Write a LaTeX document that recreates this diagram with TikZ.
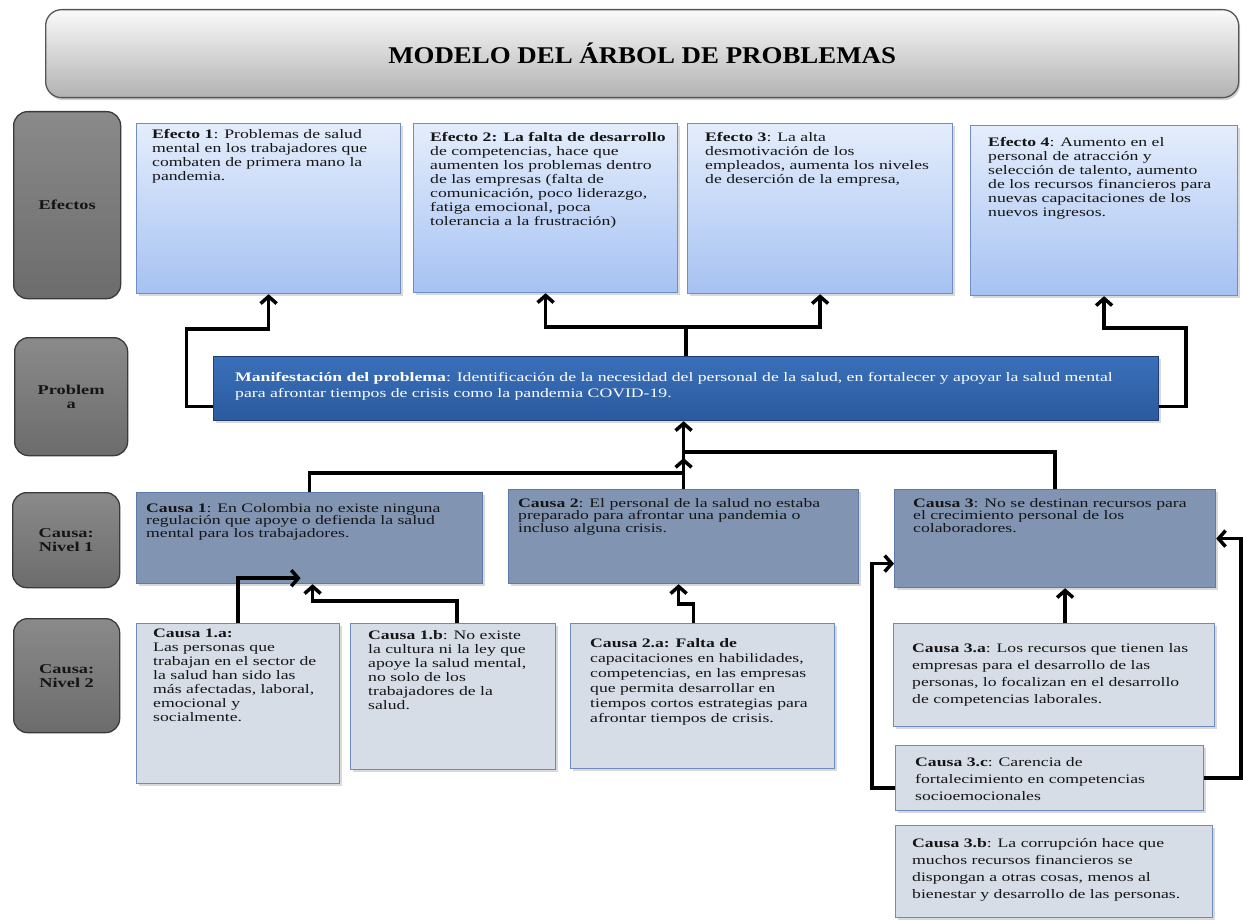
\documentclass[tikz,border=0pt]{standalone}
\usepackage{fontspec}
\setmainfont{Liberation Serif}[FakeStretch=1.36]
\newfontfamily\headfont{Liberation Serif}[FakeStretch=1.12]
\usetikzlibrary{arrows.meta,shadows,calc}

\definecolor{efTop}{HTML}{E4EDFC}
\definecolor{efBot}{HTML}{A6C2F2}
\definecolor{efLine}{HTML}{6F8EC6}
\definecolor{mfTop}{HTML}{3A70BA}
\definecolor{mfBot}{HTML}{2A5A9E}
\definecolor{mfLine}{HTML}{1E3E72}
\definecolor{cOneFill}{HTML}{8195B3}
\definecolor{cOneLine}{HTML}{5C79A8}
\definecolor{cTwoFill}{HTML}{D7DDE7}
\definecolor{cTwoLine}{HTML}{6C8CC0}
\definecolor{lbTop}{HTML}{8A8A8A}
\definecolor{lbMid}{HTML}{A2A2A2}
\definecolor{lbBot}{HTML}{6C6C6C}
\definecolor{lbLine}{HTML}{3A3A3A}
\definecolor{tiTop}{HTML}{FAFAFA}
\definecolor{tiBot}{HTML}{B2B2B2}
\definecolor{tiLine}{HTML}{555555}
\definecolor{ink}{HTML}{151515}

\newcommand\txtlines[1]{\begin{tabular}[t]{@{}l@{}}#1\end{tabular}}

\tikzset{
  sz/.style 2 args={minimum width=#1pt, minimum height=#2pt},
  panel/.style={rectangle, inner sep=0pt, anchor=north west, line width=1.2pt,
    drop shadow={shadow xshift=2pt, shadow yshift=-2.5pt, opacity=0.3}},
  efbox/.style={panel, draw=efLine, top color=efTop, bottom color=efBot},
  mfbox/.style={panel, draw=mfLine, top color=mfTop, bottom color=mfBot},
  conebox/.style={panel, draw=cOneLine, fill=cOneFill},
  ctwobox/.style={panel, draw=cTwoLine, fill=cTwoFill},
  lblbox/.style={rectangle, rounded corners=14pt, anchor=north west, draw=lbLine,
    line width=1.3pt, top color=lbTop, middle color=lbMid, bottom color=lbBot,
    align=center, text=ink, font=\fontsize{13.5}{14}\selectfont\bfseries},
  titlebox/.style={rectangle, rounded corners=16pt, anchor=north west, draw=tiLine,
    line width=1.3pt, top color=tiTop, bottom color=tiBot,
    drop shadow={shadow xshift=1.5pt, shadow yshift=-2.5pt, opacity=0.35},
    font=\headfont\fontsize{24}{26}\selectfont\bfseries, text=black},
  txt/.style={anchor=base west, inner sep=0pt, text=ink},
  wire/.style={line width=3.5pt, black, line join=miter},
  conn/.style={wire, -{Straight Barb[length=7pt,width=16pt]}},
}

\begin{document}
\begin{tikzpicture}[x=1pt, y=-1pt]
\useasboundingbox (0,0) rectangle (1243,923);

% title banner
\node[titlebox, sz={1193}{88}] (title) at (45,9) {MODELO DEL ÁRBOL DE PROBLEMAS};

% row labels
\node[lblbox, sz={107}{187}] (lef) at (13,111) {Efectos};
\node[lblbox, sz={113}{118}] (lpr) at (14,337) {Problem\\a};
\node[lblbox, sz={107}{95}] (lcone) at (12,492) {Causa:\\Nivel 1};
\node[lblbox, sz={106}{114}] (lctwo) at (13,618) {Causa:\\Nivel 2};

% effects
\node[efbox, sz={264}{170}] (e1) at (136,123) {};
\node[efbox, sz={264}{169}] (e2) at (413,123) {};
\node[efbox, sz={265}{170}] (e3) at (687,123) {};
\node[efbox, sz={267}{170}] (e4) at (970,125) {};

% problem
\node[mfbox, sz={945}{64}] (m) at (213,356) {};

% causes, level 1
\node[conebox, sz={346}{91}] (c1) at (136,492) {};
\node[conebox, sz={350}{94}] (c2) at (508,489) {};
\node[conebox, sz={321}{98}] (c3) at (894,489) {};

% causes, level 2
\node[ctwobox, sz={203}{160}] (c1a) at (136,623) {};
\node[ctwobox, sz={205}{146}] (c1b) at (350,623) {};
\node[ctwobox, sz={264}{145}] (c2a) at (570,623) {};
\node[ctwobox, sz={321}{103}] (c3a) at (893,623) {};
\node[ctwobox, sz={308}{65}] (c3c) at (895,745) {};
\node[ctwobox, sz={317}{92}] (c3b) at (895,825) {};

% texts
\node[txt, font=\fontsize{13}{14}\selectfont] (e1t) at ($(e1.north west)+(16,16)$)
  {\txtlines{\textbf{Efecto 1}: Problemas de salud\\ mental en los trabajadores que\\ combaten de primera mano la\\ pandemia.}};
\node[txt, font=\fontsize{13}{14}\selectfont] (e2t) at ($(e2.north west)+(17,19)$)
  {\txtlines{\textbf{Efecto 2: La falta de desarrollo}\\ de competencias, hace que\\ aumenten los problemas dentro\\ de las empresas (falta de\\ comunicación, poco liderazgo,\\ fatiga emocional, poca\\ tolerancia a la frustración)}};
\node[txt, font=\fontsize{13}{14}\selectfont] (e3t) at ($(e3.north west)+(18,19)$)
  {\txtlines{\textbf{Efecto 3}: La alta\\ desmotivación de los\\ empleados, aumenta los niveles\\ de deserción de la empresa,}};
\node[txt, font=\fontsize{13}{14}\selectfont] (e4t) at ($(e4.north west)+(18,22)$)
  {\txtlines{\textbf{Efecto 4}: Aumento en el\\ personal de atracción y\\ selección de talento, aumento\\ de los recursos financieros para\\ nuevas capacitaciones de los\\ nuevos ingresos.}};
\node[txt, text=white, font=\fontsize{13}{16}\selectfont] (mt) at ($(m.north west)+(22,25)$)
  {\txtlines{\textbf{Manifestación del problema}: Identificación de la necesidad del personal de la salud, en fortalecer y apoyar la salud mental\\ para afrontar tiempos de crisis como la pandemia COVID-19.}};
\node[txt, font=\fontsize{13}{12}\selectfont] (c1t) at ($(c1.north west)+(10,20)$)
  {\txtlines{\textbf{Causa 1}: En Colombia no existe ninguna\\ regulación que apoye o defienda la salud\\ mental para los trabajadores.}};
\node[txt, font=\fontsize{13}{12}\selectfont] (c2t) at ($(c2.north west)+(10,18)$)
  {\txtlines{\textbf{Causa 2}: El personal de la salud no estaba\\ preparado para afrontar una pandemia o\\ incluso alguna crisis.}};
\node[txt, font=\fontsize{13}{12}\selectfont] (c3t) at ($(c3.north west)+(19,18)$)
  {\txtlines{\textbf{Causa 3}: No se destinan recursos para\\ el crecimiento personal de los\\ colaboradores.}};
\node[txt, font=\fontsize{13}{14}\selectfont] (c1at) at ($(c1a.north west)+(17,14)$)
  {\txtlines{\textbf{Causa 1.a:}\\ Las personas que\\ trabajan en el sector de\\ la salud han sido las\\ más afectadas, laboral,\\ emocional y\\ socialmente.}};
\node[txt, font=\fontsize{13}{14}\selectfont] (c1bt) at ($(c1b.north west)+(18,16)$)
  {\txtlines{\textbf{Causa 1.b}: No existe\\ la cultura ni la ley que\\ apoye la salud mental,\\ no solo de los\\ trabajadores de la\\ salud.}};
\node[txt, font=\fontsize{13}{15}\selectfont] (c2at) at ($(c2a.north west)+(20,24)$)
  {\txtlines{\textbf{Causa 2.a: Falta de}\\ capacitaciones en habilidades,\\ competencias, en las empresas\\ que permita desarrollar en\\ tiempos cortos estrategias para\\ afrontar tiempos de crisis.}};
\node[txt, font=\fontsize{13}{17}\selectfont] (c3at) at ($(c3a.north west)+(19,29)$)
  {\txtlines{\textbf{Causa 3.a}: Los recursos que tienen las\\ empresas para el desarrollo de las\\ personas, lo focalizan en el desarrollo\\ de competencias laborales.}};
\node[txt, font=\fontsize{13}{17}\selectfont] (c3ct) at ($(c3c.north west)+(20,21)$)
  {\txtlines{\textbf{Causa 3.c}: Carencia de\\ fortalecimiento en competencias\\ socioemocionales}};
\node[txt, font=\fontsize{13}{17}\selectfont] (c3bt) at ($(c3b.north west)+(17,22)$)
  {\txtlines{\textbf{Causa 3.b}: La corrupción hace que\\ muchos recursos financieros se\\ dispongan a otras cosas, menos al\\ bienestar y desarrollo de las personas.}};

% problem -> effects
\coordinate (jt) at ($(m.north)+(0,-29)$);
\draw[conn] ($(m.west)+(0,18)$) -| ($(e1.south)+(-82,35)$) -| (e1.south);
\draw[conn] ($(m.east)+(0,18)$) -| ($(e4.south)+(82,32)$) -| (e4.south);
\draw[wire] (m.north) -- (jt);
\draw[wire, {Straight Barb[length=7pt,width=16pt]}-{Straight Barb[length=7pt,width=16pt]}]
  (e2.south) -- (e2.south |- jt) -- (e3.south |- jt) -- (e3.south);

% level 1 causes -> problem
\draw[conn] (c2.north) -- (c2.north |- m.south);
\draw[wire] (c3.north) |- ($(c2.north)+(0,-37)$);
\draw[conn] (c1.north) |- ($(c2.north)+(0,-16)$) -- ($(c2.north)+(0,-31)$);

% level 2 causes -> level 1 causes
\draw[conn] (c1a.north) |- ($(c1.south)+(-9,-6)$);
\draw[conn] ($(c1b.north)+(4,0)$) |- ($(c1.south)+(3,17)$) -- ($(c1.south)+(3,0)$);
\draw[conn] ($(c2a.north)+(-9,0)$) |- ($(c2.south)+(-5,20)$) -- ($(c2.south)+(-5,0)$);
\draw[conn] ($(c3a.north)+(11,0)$) -- ($(c3.south)+(10,0)$);
\draw[conn] ($(c3c.west)+(0,10)$) -| ($(c3.west)+(-22,25)$) -- ($(c3.west)+(0,25)$);
\draw[conn] (c3c.east) -| ($(c3.east)+(25,0)$) -- (c3.east);
\end{tikzpicture}
\end{document}
